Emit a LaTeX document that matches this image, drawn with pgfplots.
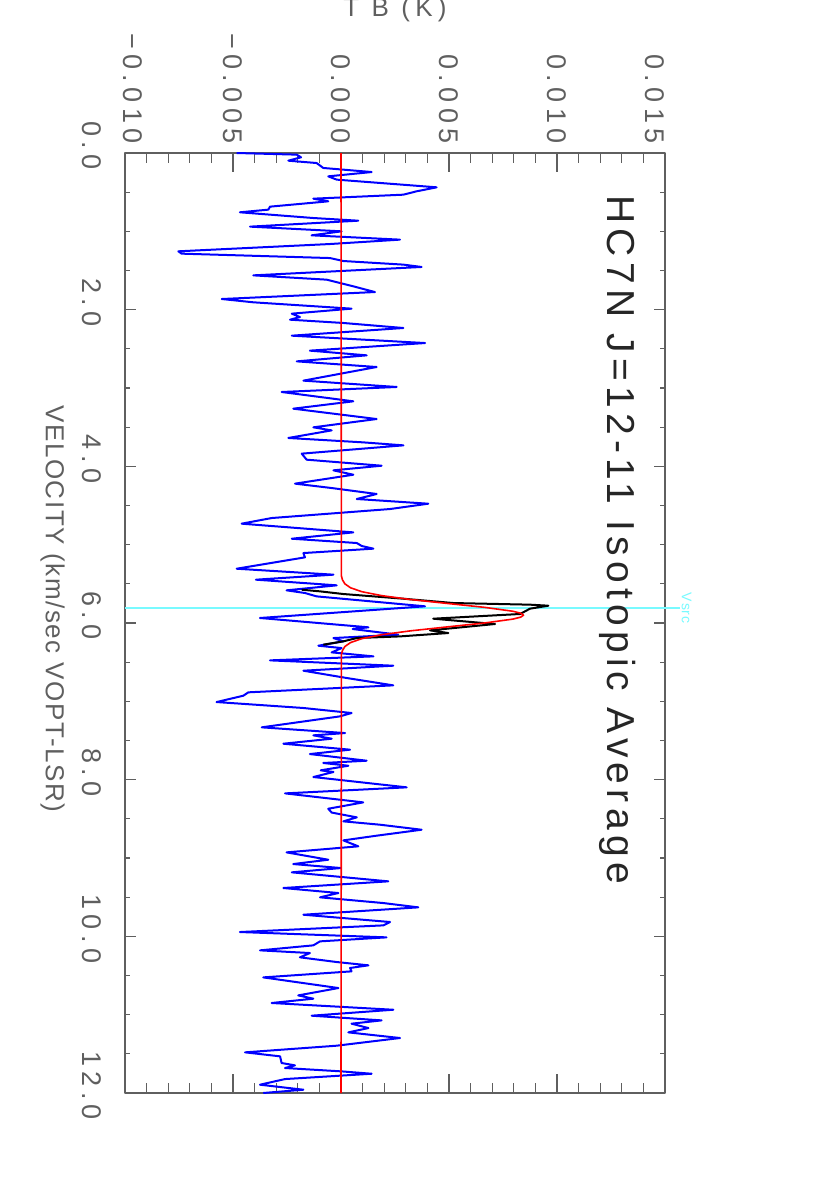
\documentclass[border=0pt]{standalone}
\usepackage{fontspec}
\setmainfont{Liberation Sans}
\newfontfamily\hershey{Liberation Sans}[LetterSpace=6]
\newfontfamily\tickfont{Liberation Sans}[LetterSpace=20]
\newfontfamily\titlefont{Liberation Sans}[LetterSpace=13.5]
\usepackage{graphicx}
\usepackage{pgfplots}
\pgfplotsset{compat=1.18}
\usepackage{pgfplotstable}
\definecolor{framegray}{RGB}{95,95,95}
\definecolor{vsrccyan}{RGB}{120,250,255}

% residual spectrum (blue), velocity in km/s, T_B in K
\pgfplotstableread{
v T
0.000 -0.00483
0.021 -0.00205
0.055 -0.00185
0.098 -0.00244
0.128 -0.00113
0.191 -0.00082
0.243 0.00142
0.298 -0.00059
0.340 -0.00020
0.438 0.00443
0.489 0.00350
0.532 0.00289
0.583 -0.00128
0.617 -0.00059
0.685 -0.00329
0.723 -0.00336
0.757 -0.00468
0.830 -0.00128
0.864 0.00080
0.940 -0.00421
1.000 0.00003
1.051 -0.00136
1.106 0.00273
1.162 -0.00051
1.255 -0.00753
1.285 -0.00738
1.341 -0.00051
1.379 0.00011
1.425 0.00289
1.455 0.00373
1.562 -0.00406
1.617 -0.00066
1.702 0.00057
1.775 0.00157
1.864 -0.00552
1.906 -0.00406
1.987 0.00049
2.051 -0.00228
2.094 -0.00190
2.128 -0.00236
2.170 0.00011
2.234 0.00289
2.332 -0.00228
2.426 0.00389
2.523 -0.00144
2.583 0.00119
2.660 -0.00205
2.732 0.00165
2.787 0.00057
2.906 -0.00174
2.987 0.00258
3.051 -0.00275
3.170 0.00057
3.264 -0.00221
3.396 0.00165
3.502 -0.00128
3.541 -0.00043
3.638 -0.00244
3.694 0.00103
3.732 0.00289
3.838 -0.00182
3.915 -0.00159
3.992 0.00188
4.051 -0.00035
4.107 0.00057
4.221 -0.00213
4.277 -0.00043
4.353 0.00165
4.417 0.00073
4.477 0.00404
4.545 0.00227
4.660 -0.00321
4.732 -0.00460
4.843 0.00057
4.924 -0.00228
4.979 0.00073
5.017 0.00096
5.051 0.00150
5.107 -0.00174
5.162 -0.00167
5.307 -0.00483
5.383 -0.00035
5.447 -0.00394
5.519 -0.00020
5.583 -0.00252
5.617 -0.00167
5.660 -0.00113
5.787 0.00389
5.936 -0.00375
6.055 0.00127
6.077 0.00054
6.149 0.00265
6.192 -0.00035
6.234 0.00011
6.290 -0.00105
6.320 0.00003
6.375 -0.00043
6.426 0.00150
6.477 -0.00329
6.545 0.00242
6.609 -0.00174
6.702 0.00026
6.796 0.00242
6.885 -0.00429
6.928 -0.00452
7.009 -0.00576
7.085 -0.00174
7.149 0.00049
7.192 -0.00005
7.332 -0.00367
7.405 0.00019
7.434 -0.00128
7.477 -0.00043
7.541 -0.00267
7.617 0.00042
7.673 -0.00144
7.758 0.00119
7.787 -0.00082
7.822 0.00034
7.881 -0.00094
7.902 -0.00035
7.966 -0.00128
8.098 0.00304
8.175 -0.00259
8.290 0.00103
8.371 -0.00059
8.420 -0.00043
8.481 0.00073
8.532 0.00011
8.575 0.00181
8.639 0.00373
8.715 0.00165
8.775 0.00011
8.851 0.00080
8.928 -0.00252
9.022 -0.00059
9.077 -0.00221
9.128 0.00000
9.183 -0.00228
9.298 0.00219
9.383 -0.00267
9.447 -0.00012
9.502 -0.00097
9.575 0.00196
9.630 0.00358
9.724 -0.00174
9.817 0.00227
9.860 0.00196
9.945 -0.00468
10.013 0.00211
10.064 -0.00097
10.115 -0.00128
10.179 -0.00375
10.213 -0.00144
10.268 -0.00190
10.328 -0.00020
10.370 0.00127
10.404 0.00042
10.447 0.00049
10.524 -0.00360
10.660 -0.00012
10.754 -0.00198
10.796 -0.00128
10.851 -0.00321
10.937 0.00242
11.013 -0.00136
11.073 0.00188
11.115 0.00049
11.171 0.00127
11.226 0.00034
11.298 0.00273
11.396 -0.00020
11.481 -0.00444
11.532 -0.00282
11.617 -0.00275
11.647 -0.00213
11.681 -0.00259
11.724 0.00003
11.754 0.00142
11.822 -0.00259
11.894 -0.00375
11.958 -0.00174
12.000 -0.00360
}\residual

% spectrum inside the line window (black)
\pgfplotstableread{
v T
5.575 -0.00182
5.596 -0.00097
5.630 0.00011
5.690 0.00289
5.745 0.00520
5.766 0.00875
5.779 0.00960
5.817 0.00875
5.885 0.00829
5.945 0.00427
6.013 0.00713
6.094 0.00412
6.128 0.00497
6.171 0.00273
6.192 0.00073
6.234 0.00011
6.277 -0.00082
}\linedata

% gaussian fit (red)
\pgfplotstableread{
v T
0.000 0.00000
5.400 0.00002
5.450 0.00007
5.500 0.00018
5.550 0.00044
5.600 0.00096
5.650 0.00187
5.700 0.00322
5.750 0.00491
5.800 0.00664
5.850 0.00796
5.875 0.00832
5.900 0.00845
5.925 0.00832
5.950 0.00796
6.000 0.00664
6.050 0.00491
6.100 0.00322
6.150 0.00187
6.200 0.00096
6.250 0.00044
6.300 0.00018
6.350 0.00007
6.400 0.00002
12.000 0.00000
}\fit

\begin{document}
\rotatebox{-90}{%
\begin{tikzpicture}
\useasboundingbox (0,0) rectangle (589.5pt,415pt);
\begin{axis}[
    at={(76.5pt,62.5pt)}, anchor=south west,
    width=470pt, height=270pt, scale only axis,
    xmin=0, xmax=12, ymin=-0.010, ymax=0.015,
    clip=false,
    xtick={0,2,4,6,8,10,12},
    xticklabels={0.0,2.0,4.0,6.0,8.0,10.0,12.0},
    minor x tick num=3,
    ytick={-0.010,-0.005,0,0.005,0.010,0.015},
    yticklabels={{\raisebox{4pt}[\height][\depth]{−0.010}},−0.005,0.000,0.005,0.010,
                 {\raisebox{-5pt}[\height][\depth]{0.015}}},
    minor y tick num=4,
    scaled y ticks=false,
    tick align=inside,
    axis line style={framegray, line width=0.7pt},
    tick style={framegray, line width=0.6pt},
    xtick style={/pgfplots/major tick length=5.5pt, /pgfplots/minor tick length=2.5pt},
    ytick style={/pgfplots/major tick length=9.5pt, /pgfplots/minor tick length=5pt},
    ticklabel style={font=\tickfont\fontsize{13.5}{15}\selectfont, text=framegray},
    xticklabel style={anchor=north, inner sep=0pt, yshift=-11.5pt, xshift=-3.7pt},
    yticklabel style={anchor=east, inner sep=0pt, xshift=-4.5pt},
    xlabel={VELOCITY (km/sec VOPT-LSR)},
    xlabel style={at={(axis description cs:0.485,0)}, anchor=north, inner sep=0pt,
                  yshift=-30pt, font=\hershey\fontsize{13}{15}\selectfont, text=framegray},
    ylabel={T B (K)},
    ylabel style={at={(axis description cs:-0.1447,0.5)}, anchor=base, rotate=0,
                  inner sep=0pt, font=\tickfont\fontsize{13}{15}\selectfont, text=framegray},
    line join=round,
  ]
  \addplot[vsrccyan, line width=0.8pt] coordinates {(5.81,-0.010) (5.81,0.0157)};
  \addplot[blue, line width=1pt] table[x=v, y=T] {\residual};
  \addplot[black, line width=1pt] table[x=v, y=T] {\linedata};
  \addplot[red, line width=0.8pt] table[x=v, y=T] {\fit};
  \node[anchor=base west, inner sep=0pt, text=black!85,
        font=\titlefont\fontsize{19.5}{22}\selectfont]
        at (axis cs:0.536,0.01236) {HC7N J=12-11 Isotopic Average};
  \node[anchor=base, inner sep=0pt, text=vsrccyan, yshift=8.5pt,
        font=\hershey\fontsize{7}{8}\selectfont]
        at (axis cs:5.81,0.015) {Vsrc};
\end{axis}
\end{tikzpicture}}
\end{document}
